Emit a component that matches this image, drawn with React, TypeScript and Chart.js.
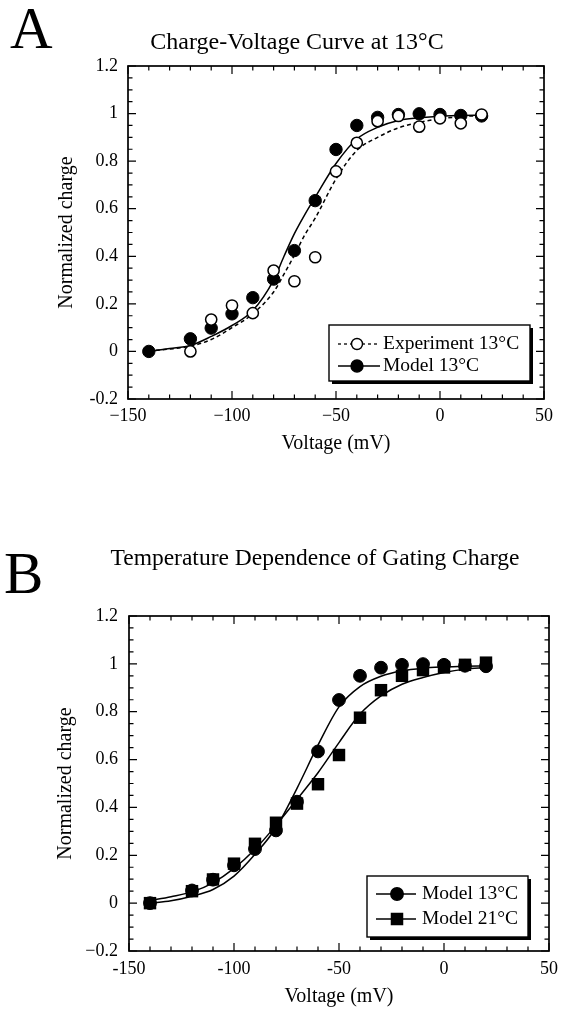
import React, { useEffect, useRef } from 'react';
import { Chart, registerables } from 'chart.js';

Chart.register(...registerables);

const FONT = '"Liberation Serif", "Times New Roman", Times, serif';

// ---------- Data (panel A) ----------
const modelVoltages = [-140, -120, -110, -100, -90, -80, -70, -60, -50, -40, -30, -20, -10, 0, 10, 20];
const model13 = [0, 0.053, 0.098, 0.158, 0.226, 0.304, 0.424, 0.634, 0.849, 0.95, 0.984, 0.996, 0.999, 0.996, 0.992, 0.99];
const expVoltages = [-120, -110, -100, -90, -80, -70, -60, -50, -40, -30, -20, -10, 0, 10, 20];
const exp13 = [0.0, 0.134, 0.193, 0.161, 0.34, 0.295, 0.396, 0.757, 0.877, 0.968, 0.99, 0.945, 0.98, 0.959, 0.996];

const curveVoltagesA = [-140, -130, -120, -110, -100, -90, -80, -75, -70, -65, -60, -50, -40, -30, -20, -10, 0, 10, 20];
const fitModel13A = [0.0, 0.012, 0.025, 0.063, 0.109, 0.172, 0.3, 0.4, 0.495, 0.575, 0.648, 0.79, 0.893, 0.942, 0.971, 0.982, 0.989, 0.992, 0.994];
const fitExp13A = [0.003, 0.01, 0.022, 0.05, 0.1, 0.158, 0.25, 0.325, 0.405, 0.49, 0.56, 0.725, 0.845, 0.9, 0.94, 0.963, 0.978, 0.987, 0.992];

// ---------- Data (panel B) ----------
const model21 = [0, 0.05, 0.099, 0.165, 0.248, 0.336, 0.416, 0.497, 0.619, 0.775, 0.89, 0.95, 0.974, 0.985, 0.996, 1.005];
const curveVoltagesB = [-140, -130, -120, -110, -100, -90, -80, -70, -60, -50, -40, -30, -20, -10, 0, 10, 20];
const fitModel13B = [0.0, 0.01, 0.029, 0.057, 0.113, 0.204, 0.315, 0.48, 0.66, 0.82, 0.905, 0.948, 0.971, 0.982, 0.987, 0.99, 0.992];
const fitModel21B = [0.011, 0.027, 0.047, 0.085, 0.145, 0.225, 0.325, 0.434, 0.545, 0.671, 0.79, 0.866, 0.915, 0.943, 0.964, 0.978, 0.985];

// ---------- Tick labels ----------
const xTickLabelsA = ['\u2212150', '\u2212100', '\u221250', '0', '50'];
const yTickLabelsA = ['-0.2', '0', '0.2', '0.4', '0.6', '0.8', '1', '1.2'];
const xTickLabelsB = ['-150', '-100', '-50', '0', '50'];
const yTickLabelsB = ['\u22120.2', '0', '0.2', '0.4', '0.6', '0.8', '1', '1.2'];

const legendLabelsA = ['Experiment 13\u00b0C', 'Model 13\u00b0C'];
const legendLabelsB = ['Model 13\u00b0C', 'Model 21\u00b0C'];

const titleA = 'Charge-Voltage Curve at 13\u00b0C';
const titleB = 'Temperature Dependence of Gating Charge';
const xTitle = 'Voltage (mV)';
const yTitle = 'Normalized charge';

const pts = (xs: number[], ys: number[]) => xs.map((x, i) => ({ x, y: ys[i] }));

const framePlugin = {
  id: 'frame',
  beforeDatasetsDraw(chart: any, _a: any, o: any) {
    const { ctx, chartArea: a, scales } = chart;
    const xs = scales.x;
    const ys = scales.y;
    ctx.save();
    ctx.strokeStyle = '#000';
    ctx.lineWidth = 1.2;
    ctx.beginPath();
    const nx = Math.round((xs.max - xs.min) / o.xMinor);
    for (let i = 0; i <= nx; i++) {
      const v = xs.min + i * o.xMinor;
      const px = xs.getPixelForValue(v);
      const r = v / o.xMajor;
      const len = Math.abs(r - Math.round(r)) < 1e-6 ? o.majorLen : o.minorLen;
      ctx.moveTo(px, a.bottom);
      ctx.lineTo(px, a.bottom - len);
      ctx.moveTo(px, a.top);
      ctx.lineTo(px, a.top + len);
    }
    const ny = Math.round((ys.max - ys.min) / o.yMinor);
    for (let i = 0; i <= ny; i++) {
      const v = ys.min + i * o.yMinor;
      const py = ys.getPixelForValue(v);
      const r = v / o.yMajor;
      const len = Math.abs(r - Math.round(r)) < 1e-6 ? o.majorLen : o.minorLen;
      ctx.moveTo(a.left, py);
      ctx.lineTo(a.left + len, py);
      ctx.moveTo(a.right, py);
      ctx.lineTo(a.right - len, py);
    }
    ctx.stroke();
    ctx.lineWidth = 1.7;
    ctx.strokeRect(a.left, a.top, a.right - a.left, a.bottom - a.top);
    ctx.restore();
  },
};

const boxLegendPlugin = {
  id: 'boxLegend',
  afterDraw(chart: any, _a: any, o: any) {
    const ctx = chart.ctx;
    const [x1, y1, x2, y2] = o.box;
    ctx.save();
    ctx.fillStyle = '#000';
    ctx.fillRect(x1 + o.shadow, y1 + o.shadow, x2 - x1, y2 - y1);
    ctx.fillStyle = '#fff';
    ctx.fillRect(x1, y1, x2 - x1, y2 - y1);
    ctx.strokeStyle = '#000';
    ctx.lineWidth = 1.4;
    ctx.strokeRect(x1, y1, x2 - x1, y2 - y1);
    o.items.forEach((it: any) => {
      ctx.setLineDash(it.dash || []);
      ctx.lineWidth = 1.3;
      ctx.beginPath();
      ctx.moveTo(o.lineX[0], it.y);
      ctx.lineTo(o.lineX[1], it.y);
      ctx.stroke();
      ctx.setLineDash([]);
      if (it.marker === 'rect') {
        ctx.fillStyle = '#000';
        ctx.fillRect(o.markerX - it.size / 2, it.y - it.size / 2, it.size, it.size);
      } else {
        ctx.beginPath();
        ctx.arc(o.markerX, it.y, it.size / 2, 0, Math.PI * 2);
        ctx.fillStyle = it.fill;
        ctx.fill();
        ctx.lineWidth = 1.4;
        ctx.stroke();
      }
      ctx.fillStyle = '#000';
      ctx.font = `${o.fontSize}px ${FONT}`;
      ctx.textBaseline = 'middle';
      ctx.textAlign = 'left';
      ctx.fillText(it.text, o.textX, it.y);
    });
    ctx.restore();
  },
};

const textsPlugin = {
  id: 'texts',
  afterDraw(chart: any, _a: any, o: any) {
    const ctx = chart.ctx;
    ctx.save();
    ctx.fillStyle = '#000';
    ctx.textBaseline = 'alphabetic';
    o.items.forEach((it: any) => {
      ctx.font = `${it.size}px ${FONT}`;
      ctx.textAlign = it.align;
      ctx.fillText(it.text, it.x, it.y);
    });
    ctx.restore();
  },
};

function makeScales(cfg: any) {
  return {
    x: {
      type: 'linear',
      min: -150,
      max: 50,
      afterFit: (s: any) => { s.height = cfg.xh; },
      ticks: {
        stepSize: 50,
        padding: cfg.xpad,
        color: '#000',
        font: { family: FONT, size: 18 },
        maxRotation: 0,
        callback: (_v: any, i: number) => cfg.xLabels[i],
      },
      grid: { display: false, drawTicks: false },
      border: { display: false },
      title: {
        display: true,
        text: xTitle,
        color: '#000',
        font: { family: FONT, size: 20 },
        padding: { top: 0, bottom: 0 },
      },
    },
    y: {
      type: 'linear',
      min: -0.2,
      max: 1.2,
      afterFit: (s: any) => { s.width = cfg.yw; },
      ticks: {
        stepSize: 0.2,
        padding: cfg.ypad,
        color: '#000',
        font: { family: FONT, size: 18 },
        callback: (_v: any, i: number) => cfg.yLabels[i],
      },
      grid: { display: false, drawTicks: false },
      border: { display: false },
      title: {
        display: true,
        text: yTitle,
        color: '#000',
        font: { family: FONT, size: 20 },
        padding: { top: cfg.ytitlePad, bottom: 0 },
      },
    },
  };
}

const frameOpts = { xMinor: 10, xMajor: 50, yMinor: 0.05, yMajor: 0.2, majorLen: 8, minorLen: 4.5 };

function configA(): any {
  return {
    type: 'scatter',
    data: {
      datasets: [
        {
          label: legendLabelsA[0],
          data: pts(expVoltages, exp13),
          showLine: false,
          pointRadius: 5.6,
          pointBackgroundColor: '#fff',
          pointBorderColor: '#000',
          pointBorderWidth: 1.5,
        },
        {
          label: legendLabelsA[1],
          data: pts(modelVoltages, model13),
          showLine: false,
          pointRadius: 6.2,
          pointBackgroundColor: '#000',
          pointBorderColor: '#000',
          pointBorderWidth: 1,
        },
        {
          label: 'fit model',
          data: pts(curveVoltagesA, fitModel13A),
          showLine: true,
          pointRadius: 0,
          borderColor: '#000',
          borderWidth: 1.5,
          cubicInterpolationMode: 'monotone',
        },
        {
          label: 'fit experiment',
          data: pts(curveVoltagesA, fitExp13A),
          showLine: true,
          pointRadius: 0,
          borderColor: '#000',
          borderWidth: 1.5,
          borderDash: [4, 3],
          cubicInterpolationMode: 'monotone',
        },
      ],
    },
    options: {
      responsive: false,
      animation: false,
      events: [],
      layout: { padding: { left: 0, top: 66, right: 35, bottom: 49 } },
      scales: makeScales({ xh: 57, yw: 128, xpad: 6, ypad: 10, ytitlePad: 55, xLabels: xTickLabelsA, yLabels: yTickLabelsA }),
      plugins: {
        legend: { display: false },
        tooltip: { enabled: false },
        frame: frameOpts,
        boxLegend: {
          box: [329, 325, 530, 381],
          shadow: 3,
          lineX: [338, 380],
          markerX: 357,
          textX: 383,
          fontSize: 19.5,
          items: [
            { y: 344, text: legendLabelsA[0], dash: [3, 3], marker: 'circle', fill: '#fff', size: 11 },
            { y: 366, text: legendLabelsA[1], dash: [], marker: 'circle', fill: '#000', size: 12 },
          ],
        },
        texts: {
          items: [
            { text: 'A', x: 10, y: 48, size: 59, align: 'left' },
            { text: titleA, x: 297, y: 49, size: 24, align: 'center' },
          ],
        },
      },
    },
    plugins: [framePlugin, boxLegendPlugin, textsPlugin],
  };
}

function configB(): any {
  return {
    type: 'scatter',
    data: {
      datasets: [
        {
          label: legendLabelsB[1],
          data: pts(modelVoltages, model21),
          showLine: false,
          pointStyle: 'rect',
          pointRadius: 8.8,
          pointBackgroundColor: '#000',
          pointBorderColor: '#000',
          pointBorderWidth: 0,
        },
        {
          label: legendLabelsB[0],
          data: pts(modelVoltages, model13),
          showLine: false,
          pointRadius: 6.4,
          pointBackgroundColor: '#000',
          pointBorderColor: '#000',
          pointBorderWidth: 1,
        },
        {
          label: 'fit 13',
          data: pts(curveVoltagesB, fitModel13B),
          showLine: true,
          pointRadius: 0,
          borderColor: '#000',
          borderWidth: 1.5,
          cubicInterpolationMode: 'monotone',
        },
        {
          label: 'fit 21',
          data: pts(curveVoltagesB, fitModel21B),
          showLine: true,
          pointRadius: 0,
          borderColor: '#000',
          borderWidth: 1.5,
          cubicInterpolationMode: 'monotone',
        },
      ],
    },
    options: {
      responsive: false,
      animation: false,
      events: [],
      layout: { padding: { left: 0, top: 111, right: 30, bottom: 2 } },
      scales: makeScales({ xh: 58, yw: 129, xpad: 7, ypad: 11, ytitlePad: 54, xLabels: xTickLabelsB, yLabels: yTickLabelsB }),
      plugins: {
        legend: { display: false },
        tooltip: { enabled: false },
        frame: frameOpts,
        boxLegend: {
          box: [367, 371, 528, 432],
          shadow: 3,
          lineX: [376, 416],
          markerX: 397,
          textX: 422,
          fontSize: 19.5,
          items: [
            { y: 389, text: legendLabelsB[0], dash: [], marker: 'circle', fill: '#000', size: 12.5 },
            { y: 414, text: legendLabelsB[1], dash: [], marker: 'rect', fill: '#000', size: 12.5 },
          ],
        },
        texts: {
          items: [
            { text: 'B', x: 4, y: 88, size: 59, align: 'left' },
            { text: titleB, x: 315, y: 60, size: 23.5, align: 'center' },
          ],
        },
      },
    },
    plugins: [framePlugin, boxLegendPlugin, textsPlugin],
  };
}

export default function App() {
  const refA = useRef<HTMLCanvasElement | null>(null);
  const refB = useRef<HTMLCanvasElement | null>(null);

  useEffect(() => {
    const a = new Chart(refA.current as HTMLCanvasElement, configA());
    const b = new Chart(refB.current as HTMLCanvasElement, configB());
    return () => {
      a.destroy();
      b.destroy();
    };
  }, []);

  return (
    <div style={{ position: 'absolute', left: 0, top: 0, width: 579, height: 1011, background: '#fff' }}>
      <canvas ref={refA} width={579} height={505} style={{ position: 'absolute', left: 0, top: 0, width: 579, height: 505, display: 'block' }} />
      <canvas ref={refB} width={579} height={506} style={{ position: 'absolute', left: 0, top: 505, width: 579, height: 506, display: 'block' }} />
    </div>
  );
}
